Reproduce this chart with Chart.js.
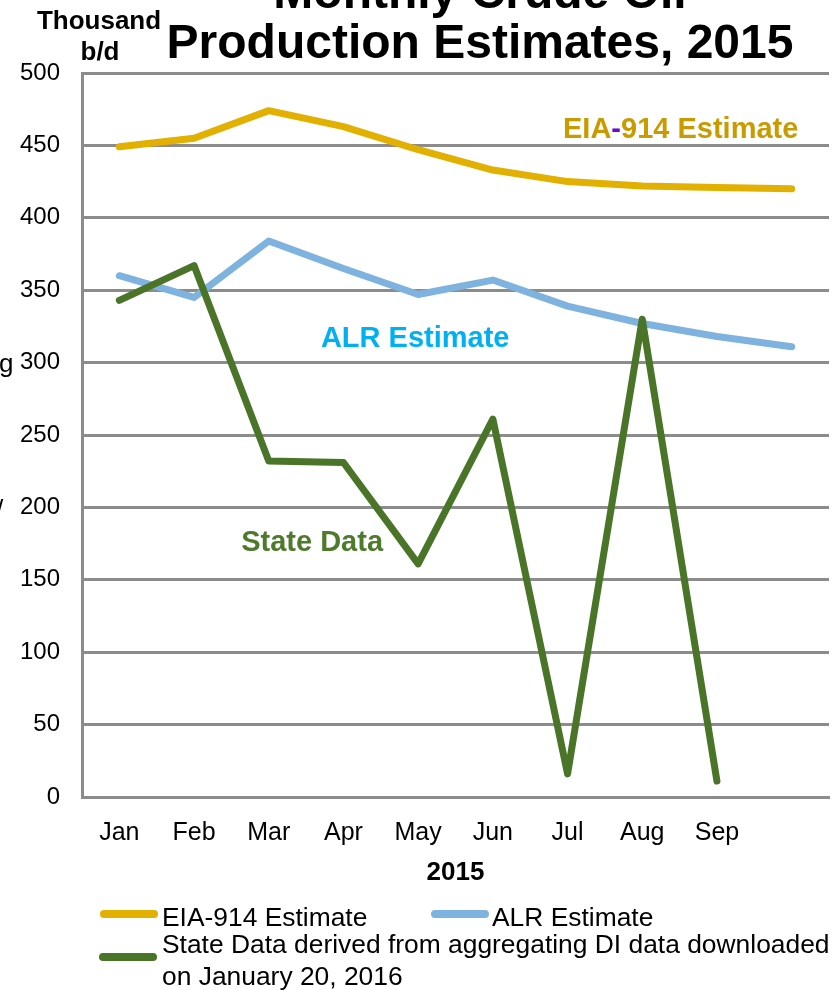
<!DOCTYPE html>
<html>
<head>
    <meta charset="UTF-8">
    <title>Monthly Crude Oil Production Estimates, 2015</title>
    <style>
        body { margin: 0; background: #fff; }
        #chartBox { width: 833px; height: 990px; }
    </style>
    <script src="https://cdnjs.cloudflare.com/ajax/libs/Chart.js/4.4.1/chart.umd.min.js"></script>
</head>
<body>
    <div id="chartBox"><canvas id="prodChart" width="833" height="990"></canvas></div>

    <script>
        // values (thousand b/d)
        const months = ["Jan", "Feb", "Mar", "Apr", "May", "Jun", "Jul", "Aug", "Sep", ""];
        const eia914 = [449, 455, 474, 463, 447, 433, 425, 422, 421, 420];
        const alrEst = [360, 345, 384, 365, 347, 357, 339, 327, 318, 311];
        const stateData = [343, 367, 232, 231, 161, 261, 16, 330, 11, null];
        const yTicks = [0, 50, 100, 150, 200, 250, 300, 350, 400, 450, 500];

        const FONT = "'Liberation Sans', Arial, sans-serif";
        const GOLD = "#E2B000", BLUE = "#7EB2DF", GREEN = "#4A7529";

        // titles, in-chart labels and the legend are drawn here
        const textPlugin = {
            id: "texts",
            afterDraw(chart) {
                const c = chart.ctx;
                const x = chart.scales.x, y = chart.scales.y;
                c.save();
                c.fillStyle = "#000";
                c.textAlign = "center";
                c.textBaseline = "alphabetic";
                c.font = "bold 48px " + FONT;
                c.fillText("Monthly Crude Oil", 480, 8);
                c.fillText("Production Estimates, 2015", 480, 58);

                c.font = "bold 26px " + FONT;
                c.fillText("Thousand", 99, 29);
                c.fillText("b/d", 100, 60);

                c.font = "bold 26px " + FONT;
                c.fillText("2015", (chart.chartArea.left + chart.chartArea.right) / 2, 880);

                // leftover bits of the cut-off side text
                c.font = "26px " + FONT;
                c.textAlign = "left";
                c.fillText("g", -1, 372);
                c.fillText("/", -4, 518);

                // series labels inside the plot
                c.font = "bold 29px " + FONT;
                c.textAlign = "left";
                let ex = 563, ey = y.getPixelForValue(462) + 10;
                c.fillStyle = "#C89B00";
                c.fillText("EIA", ex, ey);
                ex += c.measureText("EIA").width;
                c.fillStyle = "#6A0DCC";
                c.fillText("-", ex, ey);
                ex += c.measureText("-").width;
                c.fillStyle = "#C89B00";
                c.fillText("914 Estimate", ex, ey);

                c.textAlign = "center";
                c.fillStyle = "#00B0F0";
                c.fillText("ALR Estimate", x.getPixelForValue(4) - 3, y.getPixelForValue(318) + 10);
                c.fillStyle = "#4E7A2B";
                c.fillText("State Data", (x.getPixelForValue(2) + x.getPixelForValue(3)) / 2 + 6, y.getPixelForValue(177) + 10);

                // legend
                const ds = chart.data.datasets;
                const items = [
                    { d: ds[0], sx: 101, sy: 914, tx: 162, lines: ["EIA-914 Estimate"], ty: 926 },
                    { d: ds[1], sx: 432, sy: 914, tx: 492, lines: ["ALR Estimate"], ty: 926 },
                    { d: ds[2], sx: 100, sy: 957, tx: 162, lines: ["State Data derived from aggregating DI data downloaded", "on January 20, 2016"], ty: 953 },
                ];
                c.font = "26.4px " + FONT;
                c.textAlign = "left";
                items.forEach(it => {
                    c.strokeStyle = it.d.borderColor;
                    c.lineWidth = 8;
                    c.lineCap = "round";
                    c.beginPath();
                    c.moveTo(it.sx + 3, it.sy);
                    c.lineTo(it.sx + 53, it.sy);
                    c.stroke();
                    c.fillStyle = "#000";
                    it.lines.forEach((t, i) => c.fillText(t, it.tx, it.ty + i * 32));
                });
                c.restore();
            }
        };

        const ctx = document.getElementById("prodChart").getContext("2d");
        const prodChart = new Chart(ctx, {
            type: "line",
            data: {
                labels: months,
                datasets: [
                    { label: "EIA-914 Estimate", data: eia914, borderColor: GOLD, borderWidth: 7, pointRadius: 0, order: 2, borderCapStyle: "round", borderJoinStyle: "round" },
                    { label: "ALR Estimate", data: alrEst, borderColor: BLUE, borderWidth: 7, pointRadius: 0, order: 1, borderCapStyle: "round", borderJoinStyle: "round" },
                    { label: "State Data derived from aggregating DI data downloaded on January 20, 2016", data: stateData, borderColor: GREEN, borderWidth: 7, pointRadius: 0, order: 0, borderCapStyle: "round", borderJoinStyle: "round" },
                ],
            },
            options: {
                responsive: false,
                animation: false,
                devicePixelRatio: 1,
                layout: { padding: { top: 73, right: 4, left: 0, bottom: 0 } },
                plugins: { legend: { display: false }, tooltip: { enabled: false }, title: { display: false } },
                scales: {
                    x: {
                        offset: true,
                        grid: { display: false, drawTicks: false },
                        border: { display: true, color: "#8C8C8C", width: 3 },
                        ticks: { color: "#000", font: { family: FONT, size: 25 }, padding: 21, autoSkip: false, maxRotation: 0 },
                        afterFit: s => { s.height = 193; },
                    },
                    y: {
                        min: 0,
                        max: 500,
                        afterBuildTicks: s => { s.ticks = yTicks.map(v => ({ value: v })); },
                        grid: { color: "#8C8C8C", lineWidth: 3, drawTicks: false },
                        border: { display: true, color: "#8C8C8C", width: 3 },
                        ticks: { color: "#000", font: { family: FONT, size: 24 }, padding: 22 },
                        afterFit: s => { s.width = 82; },
                    },
                },
            },
            plugins: [textPlugin],
        });
    </script>
</body>
</html>
